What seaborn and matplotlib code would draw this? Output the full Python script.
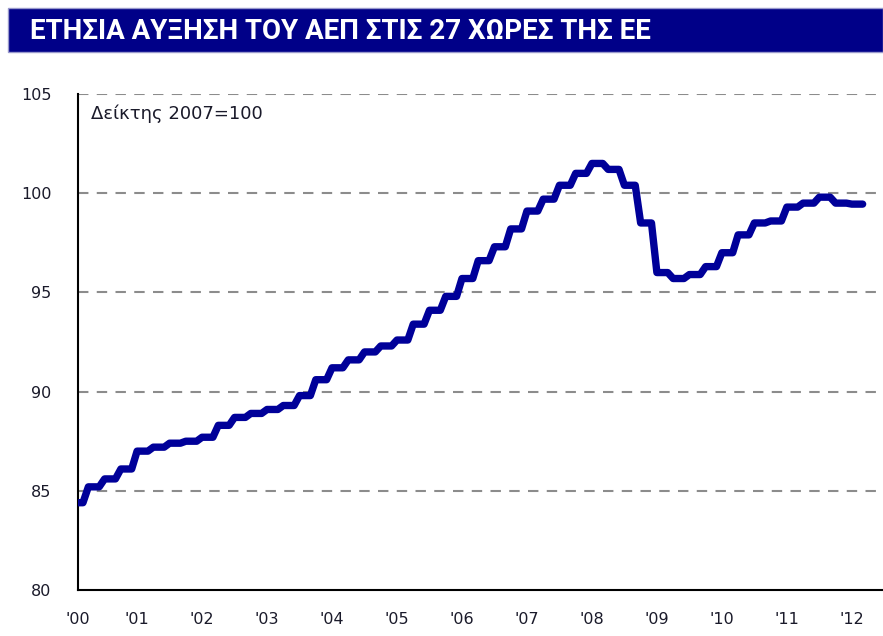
import matplotlib
matplotlib.use("Agg")
import matplotlib.pyplot as plt
from matplotlib.patches import Rectangle
import numpy as np
import pandas as pd
import seaborn as sns

# EU27 GDP index (2007=100), quarterly, 2000Q1 .. 2012Q1
start_year = 2000
gdp_index = [
    84.4, 85.2, 85.6, 86.1,
    87.0, 87.2, 87.4, 87.5,
    87.7, 88.3, 88.7, 88.9,
    89.1, 89.3, 89.8, 90.6,
    91.2, 91.6, 92.0, 92.3,
    92.6, 93.4, 94.1, 94.8,
    95.7, 96.6, 97.3, 98.2,
    99.1, 99.7, 100.4, 101.0,
    101.5, 101.2, 100.4, 98.5,
    96.0, 95.7, 95.9, 96.3,
    97.0, 97.9, 98.5, 98.6,
    99.3, 99.5, 99.8, 99.5,
    99.45,
]
year_labels = ["'00", "'01", "'02", "'03", "'04", "'05", "'06",
               "'07", "'08", "'09", "'10", "'11", "'12"]
y_ticks = [80, 85, 90, 95, 100, 105]

title = "ΕΤΗΣΙΑ ΑΥΞΗΣΗ ΤΟΥ ΑΕΠ ΣΤΙΣ 27 ΧΩΡΕΣ ΤΗΣ ΕΕ"
note = "Δείκτης 2007=100"

# quarterly values shown month by month (each quarter held for 3 months)
n = len(gdp_index)
month_pos = start_year + np.repeat(np.arange(n) / 4, 3) + np.tile([0, 1 / 12, 2 / 12], n)
df = pd.DataFrame({"date": month_pos, "value": np.repeat(gdp_index, 3)})

sns.set_style("white")
plt.rcParams["font.family"] = ["DejaVu Sans"]

fig = plt.figure(figsize=(8.83, 6.36), dpi=100)
ax = fig.add_axes([0.0883, 0.0723, 0.9117, 0.7799])

for v in y_ticks[1:]:
    ax.axhline(v, color="#8c8c8c", lw=1.5, ls=(0, (5, 4)), zorder=1)

sns.lineplot(data=df, x="date", y="value", ax=ax, color="#000099", lw=5.3,
             solid_joinstyle="round", solid_capstyle="round", zorder=3)

x_left = 2000.09
ax.set_xlim(x_left, 2012.48)
ax.set_ylim(80, 105)
ax.set_xticks([x_left] + list(range(2001, 2013)))
ax.set_xticklabels(year_labels)
ax.set_yticks(y_ticks)
ax.set_xlabel("")
ax.set_ylabel("")

for s in ["top", "right"]:
    ax.spines[s].set_visible(False)
for s in ["left", "bottom"]:
    ax.spines[s].set_color("black")
    ax.spines[s].set_linewidth(1.5)

ax.tick_params(axis="x", direction="inout", length=14, width=1.3, color="black",
               pad=9, labelsize=11.5, labelcolor="#1a1a2a")
ax.tick_params(axis="y", length=0, pad=19, labelsize=11.5, labelcolor="#1a1a2a")

ax.text(0.016, 0.978, note, transform=ax.transAxes, fontsize=13,
        color="#1a1a2a", va="top", ha="left")

# title bar
fig.patches.append(Rectangle((0.009, 0.918), 0.991, 0.069, transform=fig.transFigure,
                             facecolor="#000088", edgecolor="#9999cc", lw=1))
fig.text(0.034, 0.951, title, color="white", fontsize=20, fontweight="bold",
         va="center", ha="left", family=["Roboto", "DejaVu Sans"])

fig.savefig("out.png", dpi=100)
